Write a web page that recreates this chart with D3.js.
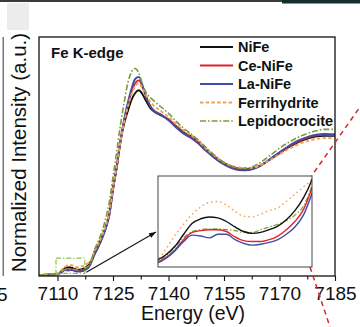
<!DOCTYPE html>
<html><head><meta charset="utf-8">
<script src="https://cdn.jsdelivr.net/npm/d3@7"></script>
<style>
html,body{margin:0;padding:0;background:#fff;}
svg{display:block;font-family:"Liberation Sans",Arial,Helvetica,sans-serif;}
</style></head>
<body><svg id="c" width="360" height="327"></svg>
<script>
// ---------- data ----------
const energy = [7105,7107,7109,
 7110,7110.5,7111,7111.5,7112,7112.5,7113,7113.5,7114,7114.5,7115,7115.5,7116,7116.5,7117,7117.5,7118,7118.5,7119,
 7120,7121,7122,7123,7124,7125,7126,7127,
 7128,7129,7130,7131,7132,7133,7134,7135,7136,
 7138,7140,7142,7144,7146,7148,7150,7152,7154,7156,7158,7160,7162,7164,7166,7168,7170,7172,7174,7176,7178,7180,7182,7185];
const niFe = [0.000,0.002,0.004,
 0.008,0.014,0.023,0.036,0.048,0.053,0.055,0.054,0.050,0.044,0.039,0.037,0.038,0.041,0.045,0.052,0.062,0.076,0.096,
 0.16,0.21,0.27,0.34,0.44,0.62,0.77,0.95,
 1.08,1.17,1.25,1.30,1.32,1.29,1.24,1.195,1.17,
 1.14,1.11,1.065,1.02,0.99,0.95,0.90,0.855,0.815,0.785,0.765,0.755,0.757,0.772,0.80,0.835,0.87,0.905,0.935,0.96,0.978,0.99,0.995,0.995];
const ceNiFe = [0.000,0.002,0.004,
 0.006,0.011,0.019,0.030,0.038,0.040,0.041,0.041,0.039,0.033,0.029,0.028,0.028,0.030,0.034,0.041,0.050,0.063,0.087,
 0.15,0.20,0.26,0.33,0.43,0.61,0.77,0.95,
 1.10,1.21,1.31,1.37,1.39,1.34,1.27,1.21,1.175,
 1.145,1.11,1.06,1.015,0.985,0.945,0.895,0.85,0.81,0.78,0.76,0.752,0.755,0.77,0.80,0.837,0.873,0.908,0.94,0.965,0.985,0.997,1.002,1.0];
const laNiFe = [0.000,0.002,0.004,
 0.005,0.010,0.018,0.028,0.035,0.034,0.032,0.036,0.036,0.030,0.026,0.024,0.025,0.027,0.030,0.036,0.044,0.057,0.081,
 0.145,0.20,0.26,0.33,0.43,0.61,0.77,0.96,
 1.11,1.23,1.33,1.40,1.415,1.35,1.27,1.21,1.175,
 1.145,1.105,1.055,1.01,0.98,0.94,0.89,0.845,0.805,0.775,0.755,0.748,0.752,0.768,0.80,0.838,0.876,0.912,0.945,0.97,0.99,1.002,1.007,1.005];
const ferrihydrite = [0.000,0.003,0.005,
 0.009,0.021,0.035,0.047,0.058,0.066,0.071,0.072,0.068,0.061,0.056,0.055,0.058,0.062,0.065,0.072,0.080,0.088,0.098,
 0.17,0.22,0.28,0.35,0.45,0.62,0.78,0.95,
 1.09,1.20,1.29,1.35,1.37,1.33,1.28,1.24,1.21,
 1.17,1.13,1.08,1.035,1.0,0.96,0.905,0.86,0.82,0.79,0.772,0.765,0.765,0.775,0.80,0.83,0.862,0.893,0.92,0.943,0.96,0.972,0.978,0.978];
const lepidocrocite = [0.000,0.002,0.004,
 0.007,0.013,0.022,0.032,0.039,0.041,0.042,0.042,0.041,0.040,0.038,0.038,0.041,0.044,0.047,0.051,0.057,0.067,0.090,
 0.18,0.24,0.31,0.40,0.52,0.70,0.88,1.07,
 1.23,1.37,1.45,1.475,1.44,1.36,1.30,1.27,1.245,
 1.20,1.155,1.10,1.05,1.01,0.965,0.915,0.865,0.822,0.79,0.77,0.762,0.768,0.79,0.825,0.865,0.905,0.94,0.97,0.995,1.015,1.03,1.04,1.04];

const seriesNames = ["NiFe","Ce-NiFe","La-NiFe","Ferrihydrite","Lepidocrocite"];
const seriesValues = [niFe, ceNiFe, laNiFe, ferrihydrite, lepidocrocite];
const majorTicks = [7110,7125,7140,7155,7170,7185];
const minorTicks = [7117.5,7132.5,7147.5,7162.5,7177.5];
const xDomain = [7105,7185];
const yDomain = [0,1.7];
const insetX = [7110,7119];
const insetY = [0,0.1];
const zoomBoxE = [7109.6,7117.4];
const zoomBoxV = [0.012,0.12];

// ---------- styles ----------
const styles = [
 {color:"#111111", dash:null, w:1.9, wi:1.4},
 {color:"#e3232b", dash:null, w:1.9, wi:1.4},
 {color:"#3d4ea6", dash:null, w:1.9, wi:1.4},
 {color:"#f3a252", dash:"3.5,2.2", w:1.9, dashI:"1.6,3", wi:1.4},
 {color:"#7f9a3a", dash:"6,2,1.6,2", w:1.6, dashI:"5,2,1.4,2", wi:1.2}
];

const svg = d3.select("#c");
const FONT = '"Liberation Sans",Arial,Helvetica,sans-serif';

// page artifacts from the source figure
svg.append("rect").attr("x",0).attr("y",0).attr("width",282).attr("height",2).attr("fill","#3a3a3a");
svg.append("rect").attr("x",282).attr("y",0).attr("width",78).attr("height",3.5).attr("fill","#13302f");
svg.append("line").attr("x1",3.2).attr("x2",3.2).attr("y1",37).attr("y2",276).attr("stroke","#555").attr("stroke-width",1.2);
svg.append("text").attr("x",7.5).attr("y",301).attr("text-anchor","end")
  .attr("font-size",19).attr("fill","#111").text("7185");

// ---------- main plot ----------
const L=39, R=335, T=37, B=276;
const x = d3.scaleLinear().domain(xDomain).range([L,R]);
const y = d3.scaleLinear().domain(yDomain).range([275,275-238]);

svg.append("defs").append("clipPath").attr("id","mainClip")
  .append("rect").attr("x",L).attr("y",T).attr("width",R-L).attr("height",B-T);

const line = d3.line().x((d)=>x(d[0])).y((d)=>y(d[1])).curve(d3.curveMonotoneX);
const gMain = svg.append("g").attr("clip-path","url(#mainClip)");
seriesValues.forEach((vals,i)=>{
  const pts = energy.map((e,k)=>[e,vals[k]]);
  const s = styles[i];
  gMain.append("path").attr("d",line(pts)).attr("fill","none")
    .attr("stroke",s.color).attr("stroke-width",s.w)
    .attr("stroke-dasharray",s.dash).attr("stroke-linejoin","round");
});

// frame
svg.append("rect").attr("x",L).attr("y",T).attr("width",R-L).attr("height",B-T)
  .attr("fill","none").attr("stroke","#111").attr("stroke-width",1.3);

// x axis
const ax = svg.append("g").attr("transform",`translate(0,${B})`)
  .call(d3.axisBottom(x).tickValues(majorTicks).tickSize(5).tickPadding(5.5).tickFormat(d3.format("d")));
ax.select(".domain").remove();
ax.selectAll("line").attr("stroke","#111").attr("stroke-width",1.1);
ax.selectAll("text").attr("font-size",19).attr("font-family",FONT).attr("fill","#111");
const axm = svg.append("g").attr("transform",`translate(0,${B})`)
  .call(d3.axisBottom(x).tickValues(minorTicks).tickSize(3.5).tickFormat(""));
axm.select(".domain").remove();
axm.selectAll("line").attr("stroke","#111").attr("stroke-width",1.1);

// axis labels
svg.append("text").attr("x",193).attr("y",320).attr("text-anchor","middle")
  .attr("font-size",19.5).attr("fill","#111").text("Energy (eV)");
svg.append("text").attr("transform","translate(26,152.5) rotate(-90)").attr("text-anchor","middle")
  .attr("font-size",20.5).attr("fill","#111").text("Normalized Intensity (a.u.)");
svg.append("rect").attr("x",7).attr("y",3).attr("width",22).attr("height",27).attr("fill","#ececec");

// title
svg.append("text").attr("x",51).attr("y",57.5).attr("font-size",15).attr("font-weight","bold")
  .attr("fill","#111").text("Fe K-edge");

// legend
const lg = svg.append("g");
seriesNames.forEach((n,i)=>{
  const cy = 47 + i*18.5;
  const s = styles[i];
  lg.append("line").attr("x1",200).attr("x2",233).attr("y1",cy).attr("y2",cy)
    .attr("stroke",s.color).attr("stroke-width",s.w).attr("stroke-dasharray",s.dash);
  lg.append("text").attr("x",238).attr("y",cy+5).attr("font-size",14.5).attr("font-weight","bold")
    .attr("fill","#111").text(n);
});

// zoom box on main
svg.append("rect").attr("x",x(zoomBoxE[0])).attr("y",y(zoomBoxV[1]))
  .attr("width",x(zoomBoxE[1])-x(zoomBoxE[0])).attr("height",y(zoomBoxV[0])-y(zoomBoxV[1]))
  .attr("fill","none").attr("stroke","#86c440").attr("stroke-width",1.2).attr("stroke-dasharray","5,2,1.2,2");

// ---------- inset ----------
const IL=158, IR=312, IT=176, IB=267;
const xi = d3.scaleLinear().domain(insetX).range([IL,IR]);
const yi = d3.scaleLinear().domain(insetY).range([IB,IT]);
svg.select("defs").append("clipPath").attr("id","insetClip")
  .append("rect").attr("x",IL).attr("y",IT-2).attr("width",IR-IL).attr("height",IB-IT+2);
svg.append("rect").attr("x",IL).attr("y",IT).attr("width",IR-IL).attr("height",IB-IT)
  .attr("fill","#fff").attr("stroke","none");
const lineI = d3.line().x((d)=>xi(d[0])).y((d)=>yi(d[1])).curve(d3.curveMonotoneX);
const gIn = svg.append("g").attr("clip-path","url(#insetClip)");
[3,4,0,1,2].forEach((i)=>{
  const vals = seriesValues[i];
  const pts = energy.map((e,k)=>[e,vals[k]]).filter((d)=>d[0]>=insetX[0]-1 && d[0]<=insetX[1]+1);
  const s = styles[i];
  gIn.append("path").attr("d",lineI(pts)).attr("fill","none")
    .attr("stroke",s.color).attr("stroke-width",s.wi)
    .attr("stroke-dasharray",s.dashI||null);
});
svg.append("rect").attr("x",IL).attr("y",IT).attr("width",IR-IL).attr("height",IB-IT)
  .attr("fill","none").attr("stroke","#444").attr("stroke-width",1);

// arrow
const ax0 = x(zoomBoxE[1])+1.5, ay0 = y(0.02);
const ax1 = IL-2, ay1 = 232;
svg.append("line").attr("x1",ax0).attr("y1",ay0).attr("x2",ax1).attr("y2",ay1)
  .attr("stroke","#111").attr("stroke-width",1.1);
const ang = Math.atan2(ay1-ay0, ax1-ax0);
const hl=7, hw=2.6;
const p1=[ax1,ay1];
const p2=[ax1-hl*Math.cos(ang)+hw*Math.sin(ang), ay1-hl*Math.sin(ang)-hw*Math.cos(ang)];
const p3=[ax1-hl*Math.cos(ang)-hw*Math.sin(ang), ay1-hl*Math.sin(ang)+hw*Math.cos(ang)];
svg.append("path").attr("d",`M${p1}L${p2}L${p3}Z`).attr("fill","#111");

// red dashed connector lines (from neighbouring panel)
svg.append("line").attr("x1",374).attr("y1",87).attr("x2",311.5).attr("y2",176)
  .attr("stroke","#d8262e").attr("stroke-width",1.5).attr("stroke-dasharray","5,4");
svg.append("line").attr("x1",310).attr("y1",267).attr("x2",331).attr("y2",330)
  .attr("stroke","#d8262e").attr("stroke-width",1.5).attr("stroke-dasharray","5,4");
</script></body></html>
